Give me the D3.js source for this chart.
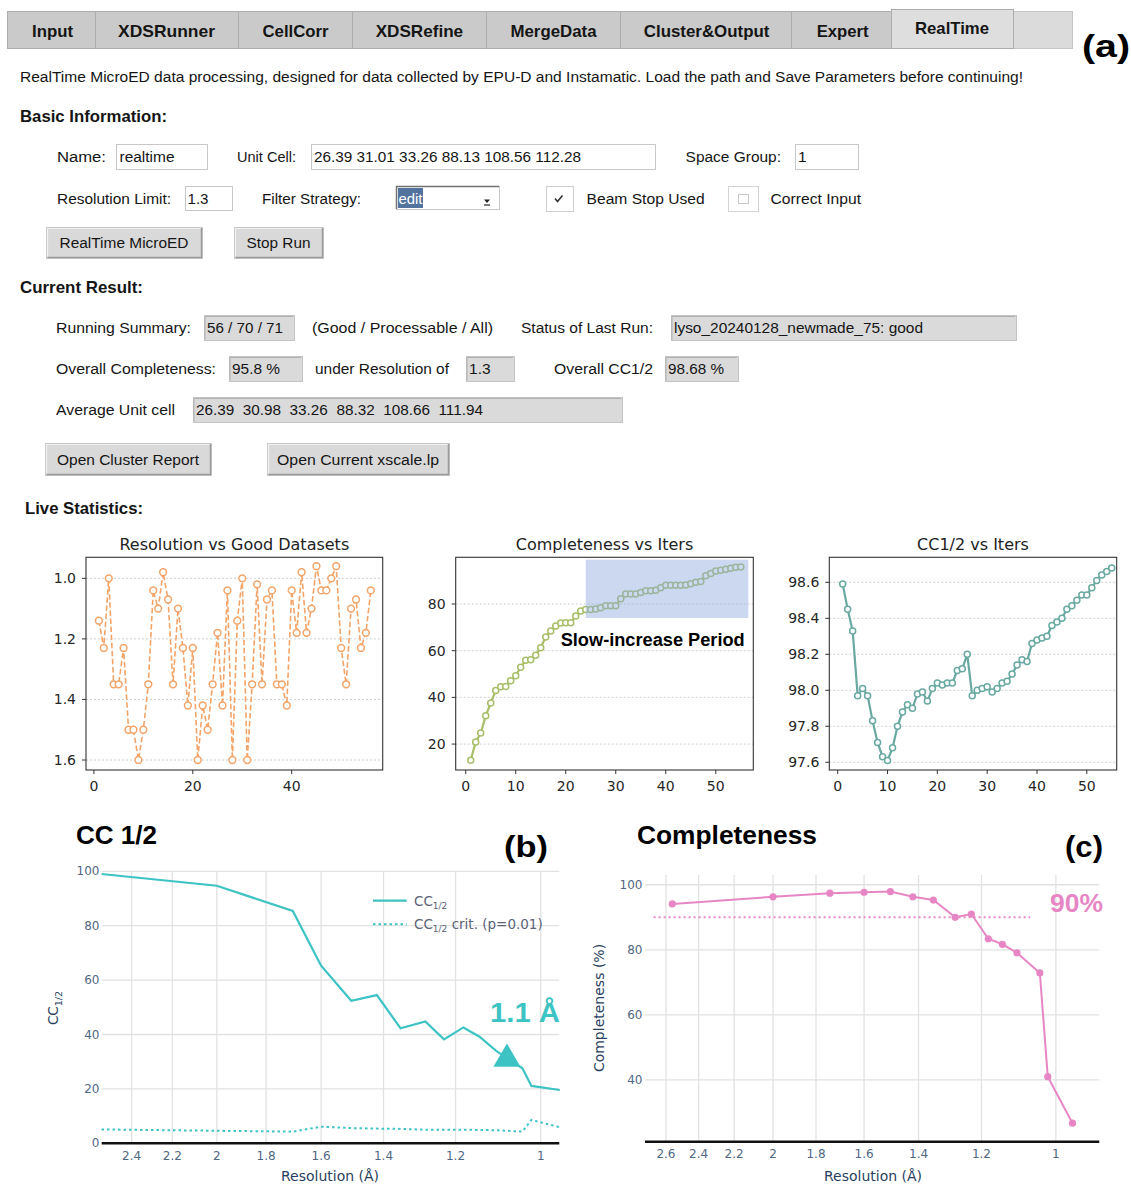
<!DOCTYPE html>
<html>
<head>
<meta charset="utf-8">
<script src="https://cdn.jsdelivr.net/npm/d3@7"></script>
<style>
  body { margin: 0; background: #fff; }
  svg { display: block; }
  text { white-space: pre; }
</style>
</head>
<body>
<div id="canvas"></div>
<script>
// --- data: live statistics (per good dataset / iteration)
var goodRes = [1.14,1.23,1.0,1.35,1.35,1.23,1.5,1.5,1.6,1.5,1.35,1.04,1.1,0.98,1.07,1.35,1.1,1.23,1.42,1.23,
               1.6,1.42,1.5,1.35,1.18,1.42,1.04,1.6,1.14,1.0,1.6,1.35,1.02,1.35,1.07,1.04,1.35,1.35,1.42,1.04,
               1.18,0.98,1.18,1.1,0.96,1.04,1.04,1.0,0.96,1.23,1.35,1.1,1.07,1.23,1.18,1.04];
var complIter = [13.1,20.9,24.7,32.1,37.6,42.9,44.6,44.7,47.1,49.3,52.9,55.9,56.1,58.1,61.3,65.9,68.4,70.6,71.9,72.0,
                 72.0,74.9,77.0,77.6,77.6,77.9,78.4,79.3,79.3,79.3,82.3,84.3,84.3,84.3,84.9,85.7,85.7,85.9,87.0,88.0,
                 88.0,88.0,88.0,88.1,88.7,89.3,89.6,92.1,93.1,94.1,94.4,94.9,95.3,95.7,95.8];
var ccIter = [98.59,98.45,98.33,97.97,98.01,97.97,97.83,97.71,97.63,97.61,97.68,97.80,97.88,97.92,97.90,97.98,97.99,97.94,98.01,98.04,
              98.03,98.04,98.04,98.11,98.12,98.20,97.97,98.00,98.01,98.02,97.99,98.01,98.04,98.05,98.09,98.14,98.17,98.16,98.26,98.28,
              98.29,98.30,98.36,98.38,98.40,98.45,98.47,98.50,98.53,98.53,98.57,98.61,98.64,98.66,98.68];

// --- data: resolution shells
var ccRes   = [2.56,2.0,1.70,1.6,1.5,1.42,1.35,1.28,1.23,1.18,1.14,1.10,1.04,1.02,0.96];
var ccHalf  = [99.0,94.7,85.4,65.3,52.4,54.5,42.3,44.8,38.2,42.6,39.2,34.0,27.6,21.1,19.6];
var ccCrit  = [5.1,4.6,4.3,6.1,5.6,5.4,5.3,5.0,5.0,5.0,4.9,4.8,4.3,8.6,5.9];
var compRes = [2.56,2.0,1.74,1.6,1.5,1.42,1.35,1.28,1.23,1.18,1.14,1.10,1.04,1.02,0.96];
var compVal = [94.1,96.3,97.4,97.7,97.9,96.3,95.3,90.0,91.0,83.4,81.7,79.1,72.9,41.0,26.7];

// --- tick labels
var resTicksB = [2.4,2.2,2,1.8,1.6,1.4,1.2,1];
var resTicksC = [2.6,2.4,2.2,2,1.8,1.6,1.4,1.2,1];
var tabNames = ["Input","XDSRunner","CellCorr","XDSRefine","MergeData","Cluster&Output","Expert","RealTime"];

var GUI = "'Liberation Sans', Arial, sans-serif";
var DJV = "'DejaVu Sans', Verdana, sans-serif";

var svg = d3.select('#canvas').append('svg')
  .attr('width', 1131).attr('height', 1185);

function put(x, y, s, o) {
  o = o || {};
  var t = svg.append('text').attr('x', x).attr('y', y).text(s)
    .attr('font-family', o.font || GUI)
    .attr('font-size', o.size || 15.5)
    .attr('font-weight', o.bold ? 'bold' : 'normal')
    .attr('fill', o.color || '#151515')
    .attr('text-anchor', o.anchor || 'start');
  if (o.w) t.attr('textLength', o.w).attr('lengthAdjust', 'spacingAndGlyphs');
  return t;
}
function box(x0, y0, x1, y1, fill, stroke) {
  return svg.append('rect').attr('x', x0 + .5).attr('y', y0 + .5)
    .attr('width', x1 - x0).attr('height', y1 - y0)
    .attr('fill', fill).attr('stroke', stroke).attr('stroke-width', 1);
}
function field(x0, y0, x1, y1, val, w) {
  box(x0, y0, x1, y1, '#dadada', '#c4c4c4');
  svg.append('path').attr('d', 'M' + (x0 + 1) + ',' + (y1 - .5) + 'V' + (y0 + 1.5) + 'H' + (x1 - 1))
    .attr('stroke', '#b0b0b0').attr('fill', 'none');
  put(x0 + 3, (y0 + y1) / 2 + 5.5, val, {w: w});
}
function button(x0, y0, x1, y1, lab, w) {
  box(x0, y0, x1, y1, '#d9d9d9', '#c8c8c8');
  svg.append('path').attr('d', 'M' + (x0 + 1.5) + ',' + (y1 - .5) + 'H' + (x1 - .5) + 'V' + (y0 + 1))
    .attr('stroke', '#9a9a9a').attr('stroke-width', 1.5).attr('fill', 'none');
  svg.append('path').attr('d', 'M' + (x0 + 1.5) + ',' + (y1 - 1.5) + 'V' + (y0 + 1.5) + 'H' + (x1 - 1.5))
    .attr('stroke', '#f2f2f2').attr('stroke-width', 1.2).attr('fill', 'none');
  put((x0 + x1) / 2, (y0 + y1) / 2 + 5.5, lab, {w: w, anchor: 'middle'});
}

// ================= (a) GUI =================
var tabEdges = [7, 95, 238, 352, 486, 620, 791, 891, 1013];
var tabMid = [52.5, 166.5, 295.5, 419.4, 553.5, 706.6, 842.7, 952];
var tabW = [41, 97, 66, 87.5, 86, 125.6, 52, 74];
box(7, 11, 1072, 48, '#dbdbdb', '#c6c6c6');
tabNames.forEach(function(n, i) {
  var active = n === 'RealTime';
  box(tabEdges[i], active ? 9 : 11, tabEdges[i + 1], 48, active ? '#dedede' : '#cacaca', '#adadad');
  put(tabMid[i], active ? 34 : 36.5, n, {bold: true, size: 17, w: tabW[i], anchor: 'middle'});
});
put(1082, 57, '(a)', {bold: true, size: 32, w: 48, color: '#000'});

put(20, 82, 'RealTime MicroED data processing, designed for data collected by EPU-D and Instamatic. Load the path and Save Parameters before continuing!', {w: 1003});
put(20, 122, 'Basic Information:', {bold: true, size: 16.5, w: 147});

put(57, 162, 'Name:', {w: 49});
box(116, 144, 207, 169, '#fff', '#c8c8c8');
put(119.5, 162, 'realtime', {w: 55});
put(237, 162, 'Unit Cell:', {w: 59});
box(311, 144, 655, 169, '#fff', '#c8c8c8');
put(314, 162, '26.39 31.01 33.26 88.13 108.56 112.28', {w: 267});
put(685.6, 162, 'Space Group:', {w: 95.4});
box(795, 144, 858, 169, '#fff', '#c8c8c8');
put(798, 162, '1');

put(57, 204, 'Resolution Limit:', {w: 114});
box(185, 186, 232, 210, '#fff', '#c8c8c8');
put(187.5, 204, '1.3', {w: 21});
put(262, 204, 'Filter Strategy:', {w: 99});
box(396, 186, 499, 209, '#fff', '#c8c8c8');
svg.append('path').attr('d', 'M396.5,209V186.5H499').attr('stroke', '#707070').attr('stroke-width', 1.5).attr('fill', 'none');
svg.append('rect').attr('x', 398).attr('y', 188).attr('width', 25).attr('height', 20).attr('fill', '#52739d');
put(398.5, 204, 'edit', {color: '#fff', w: 24});
svg.append('path').attr('d', 'M484,199.5h6l-3,3.5z').attr('fill', '#222');
svg.append('path').attr('d', 'M484,205h6').attr('stroke', '#222').attr('stroke-width', 1.2);

box(546, 186, 573, 211, '#fff', '#cfcfcf');
svg.append('path').attr('d', 'M555,198.5l2.5,3l5,-6').attr('stroke', '#333').attr('stroke-width', 1.6).attr('fill', 'none');
put(586.6, 204, 'Beam Stop Used', {w: 118});
box(728, 186, 758, 211, '#fff', '#d4d4d4');
box(738, 194, 748, 203, '#fff', '#c8c8c8');
put(770.5, 204, 'Correct Input', {w: 90.5});

button(46, 227, 202, 258, 'RealTime MicroED', 129);
button(234, 227, 323, 258, 'Stop Run', 64);

put(20, 293, 'Current Result:', {bold: true, size: 16.5, w: 123});
put(56, 333, 'Running Summary:', {w: 135});
field(204, 315, 294, 340, '56 / 70 / 71', 76);
put(312, 333, '(Good / Processable / All)', {w: 181});
put(521, 333, 'Status of Last Run:', {w: 132});
field(671, 315, 1016, 340, 'lyso_20240128_newmade_75: good', 249);

put(56, 374, 'Overall Completeness:', {w: 160});
field(229, 356, 302, 381, '95.8 %', 48);
put(315, 374, 'under Resolution of', {w: 134});
field(466, 356, 514, 381, '1.3', 21.6);
put(554, 374, 'Overall CC1/2', {w: 99});
field(665, 356, 738, 381, '98.68 %', 56);

put(56, 415, 'Average Unit cell', {w: 119});
field(193, 397, 622, 422, '26.39  30.98  33.26  88.32  108.66  111.94', 287);

button(45, 443, 211, 475, 'Open Cluster Report', 142);
button(267, 443, 449, 475, 'Open Current xscale.lp', 162);

put(25, 514, 'Live Statistics:', {bold: true, size: 16.5, w: 118});

// ---- small matplotlib-like charts
function miniChart(o) {
  var x = d3.scaleLinear().domain(o.xDom).range([o.l, o.r]);
  var y = d3.scaleLinear().domain(o.yDom).range(o.yRange);
  var g = svg.append('g');
  g.selectAll('.gy').data(o.yTicks).enter().append('line')
    .attr('x1', o.l).attr('x2', o.r).attr('y1', y).attr('y2', y)
    .attr('stroke', '#c4c4c4').attr('stroke-width', .8).attr('stroke-dasharray', '2,2');
  var line = d3.line().x(function(d, i) { return x(i + 1); }).y(function(d) { return y(d); });
  g.append('path').attr('d', line(o.data)).attr('fill', 'none')
    .attr('stroke', o.color).attr('stroke-width', o.lw || 2)
    .attr('stroke-dasharray', o.dash || null);
  g.selectAll('.pt').data(o.data).enter().append('circle')
    .attr('cx', function(d, i) { return x(i + 1); }).attr('cy', y)
    .attr('r', o.rad || 3.2).attr('fill', '#fff')
    .attr('stroke', o.color).attr('stroke-width', 1.5);
  if (o.extra) o.extra(g, x, y);
  g.append('rect').attr('x', o.l).attr('y', o.t).attr('width', o.r - o.l).attr('height', o.b - o.t)
    .attr('fill', 'none').attr('stroke', '#333').attr('stroke-width', 1.1);
  g.selectAll('.ty').data(o.yTicks).enter().append('line')
    .attr('x1', o.l - 4).attr('x2', o.l).attr('y1', y).attr('y2', y).attr('stroke', '#333');
  g.selectAll('.ly').data(o.yTicks).enter().append('text')
    .attr('x', o.l - 10).attr('y', function(d) { return y(d) + 5; })
    .attr('text-anchor', 'end').attr('font-family', DJV).attr('font-size', 14).attr('fill', '#262626')
    .text(o.yFmt);
  g.selectAll('.tx').data(o.xTicks).enter().append('line')
    .attr('x1', x).attr('x2', x).attr('y1', o.b).attr('y2', o.b + 4).attr('stroke', '#333');
  g.selectAll('.lx').data(o.xTicks).enter().append('text')
    .attr('x', x).attr('y', 791)
    .attr('text-anchor', 'middle').attr('font-family', DJV).attr('font-size', 14).attr('fill', '#262626')
    .text(function(d) { return d; });
  g.append('text').attr('x', (o.l + o.r) / 2).attr('y', 550).attr('text-anchor', 'middle')
    .attr('font-family', DJV).attr('font-size', 16).attr('fill', '#222').text(o.title);
}

miniChart({
  l: 86, r: 382.7, t: 557.3, b: 770, title: 'Resolution vs Good Datasets',
  xDom: [-1.6, 58.4], yDom: [0.9306, 1.633], yRange: [557.3, 770],
  xTicks: [0, 20, 40], yTicks: [1.0, 1.2, 1.4, 1.6], yFmt: d3.format('.1f'),
  data: goodRes, color: '#f2a469', dash: '5.5,2.6', lw: 1.6, rad: 3.4
});
miniChart({
  l: 455.7, r: 753.3, t: 557.3, b: 770, title: 'Completeness vs Iters',
  xDom: [-2, 57.5], yDom: [8.9, 100], yRange: [770, 557.3],
  xTicks: [0, 10, 20, 30, 40, 50], yTicks: [20, 40, 60, 80], yFmt: d3.format('d'),
  data: complIter, color: '#a7bf69', lw: 2.2, rad: 3,
  extra: function(g, x, y) {
    g.append('rect').attr('x', x(24)).attr('y', y(99)).attr('width', x(56.5) - x(24))
      .attr('height', y(74) - y(99)).attr('fill', '#8fa9dc').attr('opacity', .45);
    g.append('text').attr('x', 560.7).attr('y', 645.5).attr('font-family', GUI).attr('font-size', 18)
      .attr('font-weight', 'bold').attr('fill', '#000').attr('textLength', 184)
      .attr('lengthAdjust', 'spacingAndGlyphs').text('Slow-increase Period');
  }
});
miniChart({
  l: 829.3, r: 1116.7, t: 557.3, b: 770, title: 'CC1/2 vs Iters',
  xDom: [-1.69, 56.0], yDom: [97.557, 98.739], yRange: [770, 557.3],
  xTicks: [0, 10, 20, 30, 40, 50], yTicks: [97.6, 97.8, 98.0, 98.2, 98.4, 98.6], yFmt: d3.format('.1f'),
  data: ccIter, color: '#6aa9a1', lw: 2.2, rad: 3
});

// ================= (b) CC1/2 =================
var TEAL = '#3ec3c4';
var xB = d3.scaleLog().domain([2.559, 0.961]).range([101.7, 559.3]);
var yB = d3.scaleLinear().domain([0, 100]).range([1143.3, 871.3]);
var gB = svg.append('g');
gB.selectAll('.vx').data(resTicksB).enter().append('line')
  .attr('x1', xB).attr('x2', xB).attr('y1', yB(100)).attr('y2', yB(0))
  .attr('stroke', '#e2e2e2').attr('stroke-width', 1.3);
gB.selectAll('.hy').data([20, 40, 60, 80, 100]).enter().append('line')
  .attr('x1', 101.7).attr('x2', 559.3).attr('y1', yB).attr('y2', yB)
  .attr('stroke', '#e2e2e2').attr('stroke-width', 1.3);
var lineB = d3.line().x(function(d) { return xB(d[0]); }).y(function(d) { return yB(d[1]); });
gB.append('path').attr('d', lineB(d3.zip(ccRes, ccCrit))).attr('fill', 'none')
  .attr('stroke', TEAL).attr('stroke-width', 2).attr('stroke-dasharray', '2.5,3');
gB.append('path').attr('d', lineB(d3.zip(ccRes, ccHalf))).attr('fill', 'none')
  .attr('stroke', TEAL).attr('stroke-width', 2.2);
gB.append('line').attr('x1', 101.7).attr('x2', 559.3).attr('y1', yB(0)).attr('y2', yB(0))
  .attr('stroke', '#111').attr('stroke-width', 2.6);
gB.selectAll('.lx').data(resTicksB).enter().append('text')
  .attr('x', xB).attr('y', 1160).attr('text-anchor', 'middle')
  .attr('font-family', DJV).attr('font-size', 12).attr('fill', '#506784').text(function(d) { return d; });
gB.selectAll('.ly').data([0, 20, 40, 60, 80, 100]).enter().append('text')
  .attr('x', 99.5).attr('y', function(d) { return yB(d) + 4; }).attr('text-anchor', 'end')
  .attr('font-family', DJV).attr('font-size', 12).attr('fill', '#506784').text(function(d) { return d; });
var yl = gB.append('text').attr('transform', 'translate(58,1008) rotate(-90)').attr('text-anchor', 'middle')
  .attr('font-family', DJV).attr('font-size', 13.5).attr('fill', '#2a3f5f');
yl.append('tspan').text('CC');
yl.append('tspan').attr('font-size', 9.5).attr('dy', 4).text('1/2');
gB.append('text').attr('x', 330).attr('y', 1181).attr('text-anchor', 'middle')
  .attr('font-family', DJV).attr('font-size', 14).attr('fill', '#2a3f5f').text('Resolution (Å)');
// legend
gB.append('line').attr('x1', 373).attr('x2', 406.7).attr('y1', 900.7).attr('y2', 900.7)
  .attr('stroke', TEAL).attr('stroke-width', 2.2);
gB.append('line').attr('x1', 373).attr('x2', 406.7).attr('y1', 924.3).attr('y2', 924.3)
  .attr('stroke', TEAL).attr('stroke-width', 2).attr('stroke-dasharray', '2.5,3');
var lg1 = gB.append('text').attr('x', 414).attr('y', 905.5).attr('font-family', DJV).attr('font-size', 13.5).attr('fill', '#5b6479');
lg1.append('tspan').text('CC');
lg1.append('tspan').attr('font-size', 9).attr('dy', 3).text('1/2');
var lg2 = gB.append('text').attr('x', 414).attr('y', 929).attr('font-family', DJV).attr('font-size', 13.5).attr('fill', '#5b6479');
lg2.append('tspan').text('CC');
lg2.append('tspan').attr('font-size', 9).attr('dy', 3).text('1/2');
lg2.append('tspan').attr('dy', -3).text(' crit. (p=0.01)');
// cut-off marker
gB.append('path').attr('d', d3.symbol().type(d3.symbolTriangle).size(316)())
  .attr('transform', 'translate(' + xB(1.075) + ',' + yB(31) + ')').attr('fill', TEAL);
gB.append('text').attr('x', 490).attr('y', 1022).attr('font-family', GUI).attr('font-size', 28)
  .attr('font-weight', 'bold').attr('fill', TEAL).attr('textLength', 70).attr('lengthAdjust', 'spacingAndGlyphs').text('1.1 Å');
put(76, 843.5, 'CC 1/2', {bold: true, size: 26, w: 81, color: '#000'});
put(504, 857, '(b)', {bold: true, size: 30, w: 44, color: '#000'});

// ================= (c) Completeness =================
var PINK = '#e786c4';
var xC = d3.scaleLog().domain([2.737, 0.899]).range([645, 1099.3]);
var yC = d3.scaleLinear().domain([21, 103]).range([1141.7, 875]);
var gC = svg.append('g');
gC.selectAll('.vx').data(resTicksC).enter().append('line')
  .attr('x1', xC).attr('x2', xC).attr('y1', 875).attr('y2', yC(21))
  .attr('stroke', '#e2e2e2').attr('stroke-width', 1.3);
gC.selectAll('.hy').data([40, 60, 80, 100]).enter().append('line')
  .attr('x1', 645).attr('x2', 1099.3).attr('y1', yC).attr('y2', yC)
  .attr('stroke', '#e2e2e2').attr('stroke-width', 1.3);
gC.append('line').attr('x1', xC(2.68)).attr('x2', xC(1.065)).attr('y1', yC(90)).attr('y2', yC(90))
  .attr('stroke', PINK).attr('stroke-width', 2).attr('stroke-dasharray', '2,3');
var lineC = d3.line().x(function(d) { return xC(d[0]); }).y(function(d) { return yC(d[1]); });
gC.append('path').attr('d', lineC(d3.zip(compRes, compVal))).attr('fill', 'none')
  .attr('stroke', PINK).attr('stroke-width', 2);
gC.selectAll('.pt').data(d3.zip(compRes, compVal)).enter().append('circle')
  .attr('cx', function(d) { return xC(d[0]); }).attr('cy', function(d) { return yC(d[1]); })
  .attr('r', 3.6).attr('fill', PINK);
gC.append('line').attr('x1', 645).attr('x2', 1099.3).attr('y1', yC(21)).attr('y2', yC(21))
  .attr('stroke', '#111').attr('stroke-width', 2.6);
gC.selectAll('.lx').data(resTicksC).enter().append('text')
  .attr('x', xC).attr('y', 1158).attr('text-anchor', 'middle')
  .attr('font-family', DJV).attr('font-size', 12).attr('fill', '#506784').text(function(d) { return d; });
gC.selectAll('.ly').data([40, 60, 80, 100]).enter().append('text')
  .attr('x', 642.5).attr('y', function(d) { return yC(d) + 4; }).attr('text-anchor', 'end')
  .attr('font-family', DJV).attr('font-size', 12).attr('fill', '#506784').text(function(d) { return d; });
gC.append('text').attr('transform', 'translate(604,1008) rotate(-90)').attr('text-anchor', 'middle')
  .attr('font-family', DJV).attr('font-size', 14).attr('fill', '#2a3f5f').text('Completeness (%)');
gC.append('text').attr('x', 873).attr('y', 1181).attr('text-anchor', 'middle')
  .attr('font-family', DJV).attr('font-size', 14).attr('fill', '#2a3f5f').text('Resolution (Å)');
gC.append('text').attr('x', 1050).attr('y', 912).attr('font-family', GUI).attr('font-size', 26.5)
  .attr('font-weight', 'bold').attr('fill', PINK).attr('textLength', 53).attr('lengthAdjust', 'spacingAndGlyphs').text('90%');
put(637, 843.5, 'Completeness', {bold: true, size: 26, w: 180, color: '#000'});
put(1065, 857, '(c)', {bold: true, size: 29, w: 38, color: '#000'});
</script>
</body>
</html>
